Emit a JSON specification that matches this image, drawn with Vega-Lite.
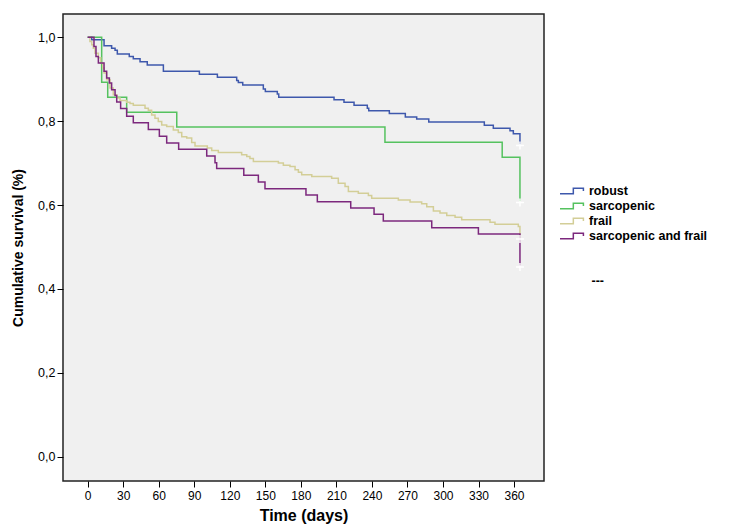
{
  "$schema": "https://vega.github.io/schema/vega-lite/v6.json",
  "autosize": {"type": "none"},
  "width": 481,
  "height": 467,
  "padding": {"left": 63, "top": 14, "right": 187, "bottom": 49},
  "background": "white",
  "config": {
    "view": {"fill": "#f0f0f0", "stroke": "#222222", "strokeWidth": 1.5},
    "font": "Liberation Sans",
    "axis": {"grid": false, "domain": false, "tickColor": "#000000", "tickSize": 6, "labelColor": "#000000", "titleColor": "#000000", "labelFont": "Liberation Sans", "titleFont": "Liberation Sans", "titleFontWeight": "bold"}
  },
  "datasets": {
    "curves": [
      {"group": "robust", "t": 0, "s": 1.0},
      {"group": "robust", "t": 3.4, "s": 0.994},
      {"group": "robust", "t": 13.8, "s": 0.980},
      {"group": "robust", "t": 20.2, "s": 0.974},
      {"group": "robust", "t": 23.1, "s": 0.969},
      {"group": "robust", "t": 25, "s": 0.960},
      {"group": "robust", "t": 35.1, "s": 0.954},
      {"group": "robust", "t": 38.5, "s": 0.949},
      {"group": "robust", "t": 44.2, "s": 0.942},
      {"group": "robust", "t": 50.3, "s": 0.934},
      {"group": "robust", "t": 63.9, "s": 0.919},
      {"group": "robust", "t": 94.3, "s": 0.912},
      {"group": "robust", "t": 109.5, "s": 0.905},
      {"group": "robust", "t": 125.8, "s": 0.897},
      {"group": "robust", "t": 127.2, "s": 0.892},
      {"group": "robust", "t": 130.9, "s": 0.886},
      {"group": "robust", "t": 148.3, "s": 0.877},
      {"group": "robust", "t": 150, "s": 0.871},
      {"group": "robust", "t": 160.1, "s": 0.865},
      {"group": "robust", "t": 161.3, "s": 0.857},
      {"group": "robust", "t": 208, "s": 0.851},
      {"group": "robust", "t": 216.4, "s": 0.845},
      {"group": "robust", "t": 224.9, "s": 0.838},
      {"group": "robust", "t": 236.1, "s": 0.831},
      {"group": "robust", "t": 237.3, "s": 0.825},
      {"group": "robust", "t": 254.7, "s": 0.818},
      {"group": "robust", "t": 268.2, "s": 0.810},
      {"group": "robust", "t": 277.8, "s": 0.805},
      {"group": "robust", "t": 288, "s": 0.798},
      {"group": "robust", "t": 334.9, "s": 0.790},
      {"group": "robust", "t": 342.5, "s": 0.783},
      {"group": "robust", "t": 356.6, "s": 0.777},
      {"group": "robust", "t": 359.4, "s": 0.770},
      {"group": "robust", "t": 365, "s": 0.745},
      {"group": "sarcopenic", "t": 0, "s": 1.0},
      {"group": "sarcopenic", "t": 11.8, "s": 0.893},
      {"group": "sarcopenic", "t": 16.9, "s": 0.857},
      {"group": "sarcopenic", "t": 32.9, "s": 0.821},
      {"group": "sarcopenic", "t": 75.2, "s": 0.786},
      {"group": "sarcopenic", "t": 251, "s": 0.750},
      {"group": "sarcopenic", "t": 350, "s": 0.714},
      {"group": "sarcopenic", "t": 365, "s": 0.609},
      {"group": "frail", "t": 0, "s": 1.0},
      {"group": "frail", "t": 1.9, "s": 0.990},
      {"group": "frail", "t": 3.4, "s": 0.982},
      {"group": "frail", "t": 4.7, "s": 0.974},
      {"group": "frail", "t": 6.2, "s": 0.962},
      {"group": "frail", "t": 9.0, "s": 0.951},
      {"group": "frail", "t": 11.0, "s": 0.939},
      {"group": "frail", "t": 12.7, "s": 0.927},
      {"group": "frail", "t": 13.8, "s": 0.915},
      {"group": "frail", "t": 16.0, "s": 0.899},
      {"group": "frail", "t": 18.8, "s": 0.879},
      {"group": "frail", "t": 21.6, "s": 0.863},
      {"group": "frail", "t": 24.5, "s": 0.855},
      {"group": "frail", "t": 27.3, "s": 0.849},
      {"group": "frail", "t": 32.9, "s": 0.845},
      {"group": "frail", "t": 35.7, "s": 0.842},
      {"group": "frail", "t": 38.5, "s": 0.838},
      {"group": "frail", "t": 48.4, "s": 0.831},
      {"group": "frail", "t": 51.2, "s": 0.826},
      {"group": "frail", "t": 54, "s": 0.815},
      {"group": "frail", "t": 56.8, "s": 0.807},
      {"group": "frail", "t": 59.6, "s": 0.799},
      {"group": "frail", "t": 62.5, "s": 0.791},
      {"group": "frail", "t": 66.7, "s": 0.787},
      {"group": "frail", "t": 72.3, "s": 0.779},
      {"group": "frail", "t": 76.5, "s": 0.773},
      {"group": "frail", "t": 79.4, "s": 0.763},
      {"group": "frail", "t": 83.6, "s": 0.760},
      {"group": "frail", "t": 87.8, "s": 0.749},
      {"group": "frail", "t": 90.6, "s": 0.741},
      {"group": "frail", "t": 101, "s": 0.736},
      {"group": "frail", "t": 104.7, "s": 0.730},
      {"group": "frail", "t": 110.3, "s": 0.725},
      {"group": "frail", "t": 130, "s": 0.720},
      {"group": "frail", "t": 134.3, "s": 0.716},
      {"group": "frail", "t": 137, "s": 0.711},
      {"group": "frail", "t": 139.9, "s": 0.704},
      {"group": "frail", "t": 161, "s": 0.700},
      {"group": "frail", "t": 165.2, "s": 0.695},
      {"group": "frail", "t": 170.8, "s": 0.692},
      {"group": "frail", "t": 175.1, "s": 0.684},
      {"group": "frail", "t": 177.9, "s": 0.678},
      {"group": "frail", "t": 180.7, "s": 0.672},
      {"group": "frail", "t": 189.2, "s": 0.668},
      {"group": "frail", "t": 206, "s": 0.664},
      {"group": "frail", "t": 211.6, "s": 0.652},
      {"group": "frail", "t": 217.3, "s": 0.644},
      {"group": "frail", "t": 220.1, "s": 0.632},
      {"group": "frail", "t": 228.5, "s": 0.628},
      {"group": "frail", "t": 237, "s": 0.623},
      {"group": "frail", "t": 239.8, "s": 0.616},
      {"group": "frail", "t": 262.3, "s": 0.612},
      {"group": "frail", "t": 272.2, "s": 0.607},
      {"group": "frail", "t": 282, "s": 0.603},
      {"group": "frail", "t": 286.3, "s": 0.596},
      {"group": "frail", "t": 291.9, "s": 0.586},
      {"group": "frail", "t": 297.5, "s": 0.581},
      {"group": "frail", "t": 303.2, "s": 0.575},
      {"group": "frail", "t": 310.2, "s": 0.571},
      {"group": "frail", "t": 315.8, "s": 0.565},
      {"group": "frail", "t": 339.7, "s": 0.559},
      {"group": "frail", "t": 343.9, "s": 0.554},
      {"group": "frail", "t": 363.6, "s": 0.549},
      {"group": "frail", "t": 365, "s": 0.522},
      {"group": "sarcopenic and frail", "t": 0, "s": 1.0},
      {"group": "sarcopenic and frail", "t": 5.3, "s": 0.978},
      {"group": "sarcopenic and frail", "t": 7, "s": 0.954},
      {"group": "sarcopenic and frail", "t": 9, "s": 0.939},
      {"group": "sarcopenic and frail", "t": 13.8, "s": 0.919},
      {"group": "sarcopenic and frail", "t": 16, "s": 0.903},
      {"group": "sarcopenic and frail", "t": 18.3, "s": 0.891},
      {"group": "sarcopenic and frail", "t": 20.2, "s": 0.875},
      {"group": "sarcopenic and frail", "t": 23.1, "s": 0.861},
      {"group": "sarcopenic and frail", "t": 24.5, "s": 0.846},
      {"group": "sarcopenic and frail", "t": 27.8, "s": 0.830},
      {"group": "sarcopenic and frail", "t": 32.9, "s": 0.812},
      {"group": "sarcopenic and frail", "t": 38.5, "s": 0.796},
      {"group": "sarcopenic and frail", "t": 51.2, "s": 0.780},
      {"group": "sarcopenic and frail", "t": 60.5, "s": 0.764},
      {"group": "sarcopenic and frail", "t": 66.7, "s": 0.748},
      {"group": "sarcopenic and frail", "t": 76.8, "s": 0.733},
      {"group": "sarcopenic and frail", "t": 100.5, "s": 0.717},
      {"group": "sarcopenic and frail", "t": 107.5, "s": 0.701},
      {"group": "sarcopenic and frail", "t": 108.9, "s": 0.687},
      {"group": "sarcopenic and frail", "t": 131.8, "s": 0.671},
      {"group": "sarcopenic and frail", "t": 144.1, "s": 0.655},
      {"group": "sarcopenic and frail", "t": 149.7, "s": 0.639},
      {"group": "sarcopenic and frail", "t": 184.3, "s": 0.624},
      {"group": "sarcopenic and frail", "t": 193.9, "s": 0.608},
      {"group": "sarcopenic and frail", "t": 222.1, "s": 0.593},
      {"group": "sarcopenic and frail", "t": 241.8, "s": 0.578},
      {"group": "sarcopenic and frail", "t": 249.6, "s": 0.562},
      {"group": "sarcopenic and frail", "t": 290.5, "s": 0.546},
      {"group": "sarcopenic and frail", "t": 329.9, "s": 0.531},
      {"group": "sarcopenic and frail", "t": 365, "s": 0.456}
    ],
    "censored": [
      {"group": "robust", "t": 365, "s": 0.742, "mark": "---"},
      {"group": "sarcopenic", "t": 365, "s": 0.606, "mark": "---"},
      {"group": "frail", "t": 365, "s": 0.519, "mark": "---"},
      {"group": "sarcopenic and frail", "t": 365, "s": 0.452, "mark": "---"}
    ]
  },
  "layer": [
    {
      "data": {"name": "curves"},
      "mark": {"type": "line", "interpolate": "step-after", "strokeWidth": 1.5},
      "encoding": {
        "x": {"field": "t", "type": "quantitative",
          "scale": {"domain": [-20.86, 385.3], "nice": false, "zero": false},
          "axis": {"values": [0, 30, 60, 90, 120, 150, 180, 210, 240, 270, 300, 330, 360], "title": "Time (days)", "titleFontSize": 16, "labelFontSize": 12, "titlePadding": 6, "labelPadding": 3}},
        "y": {"field": "s", "type": "quantitative",
          "scale": {"domain": [-0.0582, 1.0556], "nice": false, "zero": false},
          "axis": {"values": [0, 0.2, 0.4, 0.6, 0.8, 1.0], "labelExpr": "replace(format(datum.value, '.1f'), '.', ',')", "title": "Cumulative survival (%)", "titleFontSize": 14, "labelFontSize": 12.5, "titlePadding": 12, "labelPadding": 2}},
        "color": {"field": "group", "type": "nominal",
          "scale": {"domain": ["robust", "sarcopenic", "frail", "sarcopenic and frail"], "range": ["#3E58AC", "#55C25F", "#D3CE97", "#7C287D"]},
          "legend": {"title": null, "orient": "none", "legendX": 502, "legendY": 170, "padding": 0, "symbolType": "M-2,0.47H0.22V-0.47H1.9V0", "symbolSize": 144, "symbolStrokeWidth": 1.5, "labelOffset": 10, "labelFontSize": 12.5, "labelFontWeight": "bold", "labelColor": "#000000", "rowPadding": 1}},
        "detail": {"field": "group"}
      }
    },
    {
      "data": {"name": "censored"},
      "mark": {"type": "point", "filled": false, "stroke": "white", "strokeWidth": 1.5, "opacity": 1, "size": 64},
      "encoding": {
        "x": {"field": "t", "type": "quantitative"},
        "y": {"field": "s", "type": "quantitative"},
        "shape": {"field": "mark", "type": "nominal",
          "scale": {"domain": ["---"], "range": ["M-1,0H1M0,-1V1"]},
          "legend": {"title": null, "orient": "none", "legendX": 502, "legendY": 261, "padding": 0, "symbolSize": 64, "symbolStrokeColor": "white", "symbolStrokeWidth": 1.5, "labelOffset": 14, "labelFontSize": 12.5, "labelFontWeight": "bold", "labelColor": "#000000"}}
      }
    }
  ]
}
